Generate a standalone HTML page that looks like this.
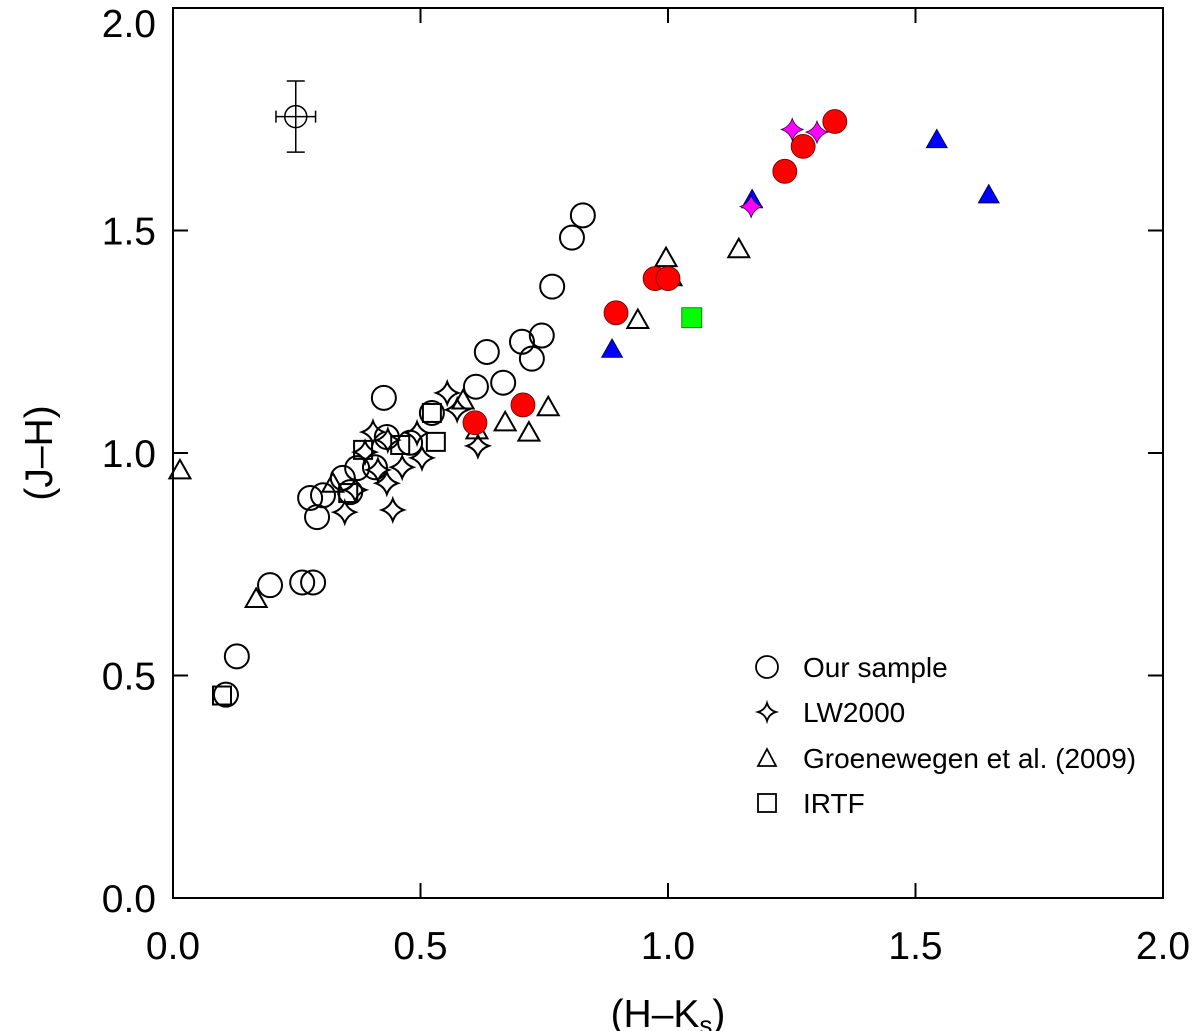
<!DOCTYPE html>
<html><head><meta charset="utf-8"><style>
html,body{margin:0;padding:0;background:#fff}
svg{display:block;font-family:"Liberation Sans",Arial,sans-serif}
</style></head><body>
<svg id="chart" width="1200" height="1031" viewBox="0 0 1200 1031">
<rect x="173" y="8" width="990" height="890" fill="none" stroke="#000" stroke-width="2"/>
<g id="axes"></g>
<g id="marks"></g>
<text x="668" y="1027" font-size="39" text-anchor="middle">(H–K<tspan font-size="26" dy="7">s</tspan><tspan dy="-7">)</tspan></text>
<text transform="translate(52,453) rotate(-90)" font-size="39" text-anchor="middle">(J–H)</text>
<g font-size="28">
<circle cx="767" cy="667" r="11" fill="none" stroke="#000" stroke-width="1.8"/>
<text x="803" y="677">Our sample</text>
<path d="M767,703 Q769,710 776,712 Q769,714 767,721 Q765,714 758,712 Q765,710 767,703Z" fill="none" stroke="#000" stroke-width="1.8"/>
<text x="803" y="722">LW2000</text>
<path d="M767,749 L776,766 L758,766Z" fill="none" stroke="#000" stroke-width="1.8"/>
<text x="803" y="768">Groenewegen et al. (2009)</text>
<rect x="758" y="794" width="18" height="18" fill="none" stroke="#000" stroke-width="1.8"/>
<text x="803" y="813">IRTF</text>
</g>
</svg>
<script>
const xTicks=[0.0,0.5,1.0,1.5,2.0];
const yTicks=[0.0,0.5,1.0,1.5,2.0];
const xTickLabels=["0.0","0.5","1.0","1.5","2.0"];
const yTickLabels=["0.0","0.5","1.0","1.5","2.0"];
const ourX=[0.107,0.129,0.196,0.261,0.283,0.277,0.291,0.303,0.343,0.358,0.372,0.408,0.432,0.479,0.523,0.426,0.612,0.634,0.667,0.705,0.725,0.745,0.766,0.806,0.828];
const ourY=[0.457,0.543,0.703,0.709,0.709,0.899,0.856,0.905,0.944,0.912,0.966,0.968,1.036,1.023,1.090,1.124,1.149,1.227,1.158,1.250,1.212,1.264,1.374,1.484,1.534];
const lwX=[0.554,0.574,0.404,0.434,0.493,0.388,0.414,0.463,0.503,0.432,0.347,0.444,0.616,0.368];
const lwY=[1.135,1.097,1.047,1.029,1.045,1.002,0.962,0.968,0.989,0.932,0.867,0.872,1.016,0.917];
const grX=[0.014,0.168,0.323,0.586,0.614,0.671,0.719,0.758,0.939,0.996,1.006,1.143];
const grY=[0.962,0.673,0.932,1.119,1.052,1.070,1.047,1.104,1.300,1.439,1.396,1.459];
const irX=[0.384,0.354,0.523,0.459,0.531,0.099];
const irY=[1.007,0.910,1.090,1.018,1.025,0.455];
const redX=[0.610,0.707,0.895,0.974,1.000,1.236,1.273,1.337];
const redY=[1.068,1.108,1.315,1.392,1.392,1.633,1.689,1.745];
const blueX=[0.887,1.170,1.543,1.648];
const blueY=[1.234,1.570,1.705,1.581];
const greenX=[1.048];
const greenY=[1.304];
const magX=[1.168,1.251,1.301];
const magY=[1.554,1.727,1.721];
const errX=[0.248], errY=[1.756], errDx=[0.04], errDy=[0.08];

const X0=173,X1=1163,Y0=898,Y1=8;
const sx=v=>X0+(v-0)/(2-0)*(X1-X0);
const sy=v=>Y0-(v-0)/(2-0)*(Y0-Y1);
const NS="http://www.w3.org/2000/svg";
function mk(tag,attrs,parent){const e=document.createElementNS(NS,tag);for(const k in attrs)e.setAttribute(k,attrs[k]);parent.appendChild(e);return e;}
const axes=document.getElementById('axes'), marks=document.getElementById('marks');
xTicks.forEach((t,i)=>{const x=sx(t);
 let l=mk('line',{x1:x,x2:x,y1:Y0,y2:Y0-15,stroke:'#000','stroke-width':2},axes);
 
 
 let l2=mk('line',{x1:x,x2:x,y1:Y1,y2:Y1+15,stroke:'#000','stroke-width':2},axes);
 
 
 let tx=mk('text',{x:x,y:959,'font-size':39,'text-anchor':'middle'},axes);tx.textContent=xTickLabels[i];
 
 
});
yTicks.forEach((t,i)=>{const y=sy(t);
 let l=mk('line',{x1:X0,x2:X0+15,y1:y,y2:y,stroke:'#000','stroke-width':2},axes);
 
 
 let l2=mk('line',{x1:X1,x2:X1-15,y1:y,y2:y,stroke:'#000','stroke-width':2},axes);
 
 
 const ly=Math.max(y+14,37);
 let tx=mk('text',{x:156,y:ly,'font-size':39,'text-anchor':'end'},axes);tx.textContent=yTickLabels[i];
 
 
});
function star(x,y,r){const q=r*0.25;
 return `M${x},${y-r} Q${x+q},${y-q} ${x+r},${y} Q${x+q},${y+q} ${x},${y+r} Q${x-q},${y+q} ${x-r},${y} Q${x-q},${y-q} ${x},${y-r}Z`;}
function tri(x,y,s){return `M${x},${y-s} L${x+s*1.05},${y+s*0.85} L${x-s*1.05},${y+s*0.85}Z`;}
ourX.forEach((v,i)=>{const e=mk('circle',{cx:sx(v),cy:sy(ourY[i]),r:12,fill:'none',stroke:'#000','stroke-width':2},marks);
 
 });
lwX.forEach((v,i)=>{const e=mk('path',{d:star(sx(v),sy(lwY[i]),11),fill:'none',stroke:'#000','stroke-width':2},marks);
 
 });
grX.forEach((v,i)=>{const e=mk('path',{d:tri(sx(v),sy(grY[i]),10),fill:'none',stroke:'#000','stroke-width':2},marks);
 
 });
irX.forEach((v,i)=>{const e=mk('rect',{x:sx(v)-9,y:sy(irY[i])-9,width:18,height:18,fill:'none',stroke:'#000','stroke-width':2},marks);
 
 });
redX.forEach((v,i)=>{const e=mk('circle',{cx:sx(v),cy:sy(redY[i]),r:12,fill:'#f00',stroke:'#600','stroke-width':0.8},marks);
 
 });
blueX.forEach((v,i)=>{const e=mk('path',{d:tri(sx(v),sy(blueY[i]),10),fill:'#00f',stroke:'#003','stroke-width':0.8},marks);
 
 });
greenX.forEach((v,i)=>{const e=mk('rect',{x:sx(v)-10,y:sy(greenY[i])-10,width:20,height:20,fill:'#0f0',stroke:'#060','stroke-width':0.8},marks);
 
 });
magX.forEach((v,i)=>{const e=mk('path',{d:star(sx(v),sy(magY[i]),11),fill:'#f0f',stroke:'#303','stroke-width':0.8},marks);
 
 });
errX.forEach((v,i)=>{const cx=sx(v),cy=sy(errY[i]);
 const x1=sx(v-errDx[i]),x2=sx(v+errDx[i]),y1=sy(errY[i]+errDy[i]),y2=sy(errY[i]-errDy[i]);
 const e=mk('path',{d:`M${x1},${cy}H${x2}M${cx},${y1}V${y2}M${x1},${cy-6}V${cy+6}M${x2},${cy-6}V${cy+6}M${cx-9},${y1}H${cx+9}M${cx-9},${y2}H${cx+9}`,fill:'none',stroke:'#000','stroke-width':1.5},marks);
 
 
 const c=mk('circle',{cx:cx,cy:cy,r:11,fill:'none',stroke:'#000','stroke-width':1.5},marks);
 
 });
</script>
</body></html>
